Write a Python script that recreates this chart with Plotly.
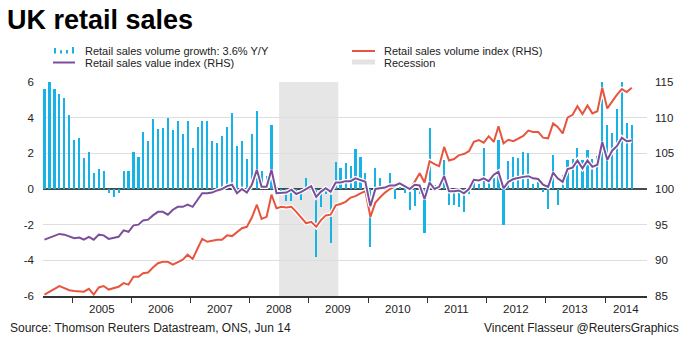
import pandas as pd
import plotly.graph_objects as go

# Monthly observations, Jul 2004 - Jun 2014
months = pd.date_range("2004-07-01", periods=120, freq="MS") + pd.Timedelta(days=14)

# Retail sales volume growth, % Y/Y (left axis)
volume_growth = [
    5.6, 6.0, 5.6, 5.3, 5.1, 4.15, 2.75, 2.85, 1.75, 2.05, 0.9, 1.1,
    1.0, -0.25, -0.45, -0.25, 1.0, 1.0, 2.1, 1.8, 3.2, 2.7, 3.9, 3.35,
    3.4, 4.0, 3.3, 3.8, 3.1, 3.8, 2.3, 3.5, 3.8, 3.8, 2.7, 2.6,
    3.0, 3.5, 4.25, 2.4, 2.7, 1.7, 3.1, 4.4, 1.0, 0.75, 3.6, 0.1,
    -0.1, -0.7, -0.7, -0.25, -0.6, 0.6, 0.1, -3.8, -1.0, -0.3, -3.05, 1.5,
    1.15, 1.45, 1.3, 2.25, 1.8, 0.9, -3.25, 1.2, 0.6, 0.05, 0.9, -0.55,
    0.1, -0.25, -1.2, -0.95, -0.3, -2.45, 3.4, 0.2, 0.3, 1.6, -0.9, -0.9,
    -1.0, -1.3, -0.3, 0.55, 0.3, 2.3, 0.4, 0.6, 2.75, -2.0, 1.55, 1.8,
    1.75, 2.1, 2.0, 0.3, 0.4, -0.15, -1.1, 1.9, -0.9, 0.8, 1.6, 1.7,
    2.3, 1.6, 2.2, 1.7, 1.85, 6.0, 3.6, 3.15, 4.5, 6.0, 3.7, 3.6,
]

# Retail sales volume index (right axis)
volume_index = [
    85.2, 85.6, 86.0, 86.4, 86.1, 85.8, 85.7, 85.7, 85.6, 86.0, 85.2, 86.2,
    86.4, 85.9, 86.1, 86.3, 86.8, 86.6, 87.7, 87.7, 88.2, 88.3, 89.0, 89.6,
    89.8, 89.8, 89.4, 89.7, 90.1, 90.8, 90.2, 91.7, 93.0, 92.6, 92.8, 92.9,
    92.9, 93.5, 93.4, 93.9, 94.5, 94.7, 96.0, 97.8, 95.8, 96.1, 99.2, 97.3,
    97.5, 97.4, 97.5, 96.8, 96.0, 95.2, 95.4, 94.7, 95.6, 96.3, 96.4, 97.7,
    97.9, 98.2, 98.8, 99.0, 99.4, 99.7, 96.1, 98.1, 98.8, 99.5, 100.0, 100.3,
    100.7, 100.5, 100.0, 101.0, 102.2, 100.9, 103.9, 103.5, 103.2, 105.9, 104.0, 104.2,
    104.75, 104.9, 105.3, 106.6, 106.85, 106.5, 107.4, 106.6, 108.8, 106.4, 106.9, 106.7,
    107.1, 107.45, 108.2, 108.0, 108.0, 107.2, 107.1, 109.2, 108.7, 107.8, 110.0, 110.4,
    111.6, 110.5, 111.7, 110.6, 110.9, 114.2, 111.3, 112.4, 113.2, 114.0, 113.6, 114.2,
]

# Retail sales value index (right axis)
value_index = [
    92.9, 93.2, 93.5, 93.7, 93.6, 93.3, 93.1, 93.2, 92.9, 93.3, 92.9, 93.6,
    93.5, 93.0, 93.2, 93.3, 94.2, 94.0, 94.9, 95.0, 95.6, 95.7, 96.3, 96.8,
    96.8, 96.4, 97.1, 97.5, 97.5, 97.8, 97.5, 98.6, 99.4, 99.4, 99.5, 99.8,
    100.0, 100.4, 100.6, 99.4, 100.0, 99.5, 100.6, 102.7, 100.3, 100.3, 102.7, 99.4,
    99.5, 99.5, 99.9, 99.3, 99.6, 100.0, 100.4, 98.9, 99.6, 100.1, 99.6, 100.9,
    100.9, 101.1, 101.1, 101.5, 101.2, 101.0, 97.6, 100.0, 100.1, 100.2, 100.5, 100.5,
    100.8, 100.4, 100.0, 100.6, 100.5, 98.6, 100.9, 100.0, 100.3, 101.8, 99.7, 99.7,
    99.8, 99.4, 100.0, 101.3, 101.2, 101.5, 101.1, 102.0, 102.4, 100.1, 101.0, 101.4,
    101.6, 101.7, 101.8, 101.5, 101.4, 100.6, 100.3, 102.3, 101.5, 101.0, 102.8, 103.0,
    104.0, 102.9, 104.0, 103.1, 103.4, 106.6, 104.1, 105.4, 106.0, 107.2, 106.7, 106.8,
]

recession = ("2008-07-01", "2009-07-01")
year_labels = ["2005", "2006", "2007", "2008", "2009", "2010", "2011", "2012", "2013", "2014"]
left_ticks = [-6, -4, -2, 0, 2, 4, 6]
right_ticks = [85, 90, 95, 100, 105, 110, 115]

BLUE = "#17b2e6"
RED = "#e8553f"
PURPLE = "#7b4e9c"
TEXT = "#222222"
FONT = "Liberation Sans, Arial, sans-serif"

W, H = 692, 338
ML, MR, MT, MB = 43, 45, 82, 42
PW, PH = W - ML - MR, H - MT - MB
X_RANGE = ["2004-07-06", "2014-09-17"]


def px(x):
    return (x - ML) / PW


def py(y):
    return (H - MB - y) / PH


fig = go.Figure()

fig.add_trace(go.Bar(
    x=months, y=volume_growth, marker=dict(color=BLUE, line=dict(width=0)),
    width=13 * 86400000, name="Retail sales volume growth", yaxis="y",
))

for series, color in ((volume_index, RED), (value_index, PURPLE)):
    fig.add_trace(go.Scatter(
        x=months, y=series, mode="lines", yaxis="y2",
        line=dict(color="white", width=4.5), hoverinfo="skip",
    ))
    fig.add_trace(go.Scatter(
        x=months, y=series, mode="lines", yaxis="y2",
        line=dict(color=color, width=2),
    ))

shapes = [
    dict(type="rect", xref="x", yref="paper", x0=recession[0], x1=recession[1],
         y0=0, y1=1, fillcolor="#e6e6e6", line=dict(width=0), layer="below"),
]

# legend keys
icon_bars = [(54, 5.5), (60, 3.3), (66, 3.5), (72, 6.5)]
for bx, bh in icon_bars:
    shapes.append(dict(type="rect", xref="paper", yref="paper",
                       x0=px(bx), x1=px(bx + 2), y0=py(53.5), y1=py(53.5 - bh),
                       fillcolor=BLUE, line=dict(width=0)))
shapes.append(dict(type="line", xref="paper", yref="paper", x0=px(53), x1=px(75),
                   y0=py(62.5), y1=py(62.5), line=dict(color=PURPLE, width=2)))
shapes.append(dict(type="line", xref="paper", yref="paper", x0=px(352), x1=px(375),
                   y0=py(51), y1=py(51), line=dict(color=RED, width=2)))
shapes.append(dict(type="rect", xref="paper", yref="paper", x0=px(352), x1=px(375),
                   y0=py(59.5), y1=py(64.5), fillcolor="#e3e3e3", line=dict(width=0)))

annotations = []
legend_texts = [
    (83, 51, "Retail sales volume growth: 3.6% Y/Y"),
    (83, 63, "Retail sales value index (RHS)"),
    (382, 51, "Retail sales volume index (RHS)"),
    (382, 63, "Recession"),
]
for lx, ly, t in legend_texts:
    annotations.append(dict(xref="paper", yref="paper", x=px(lx), y=py(ly), text=t,
                            showarrow=False, xanchor="left", yanchor="middle",
                            font=dict(size=11, color=TEXT, family=FONT)))

# year labels centred on each year (last one on its visible part)
for lab in year_labels:
    if lab == year_labels[-1]:
        xd = pd.Timestamp(lab + "-01-01") + (pd.Timestamp(X_RANGE[1]) - pd.Timestamp(lab + "-01-01")) / 2
    else:
        xd = pd.Timestamp(lab + "-07-02")
    annotations.append(dict(xref="x", yref="paper", x=xd, y=py(309), text=lab,
                            showarrow=False, xanchor="center", yanchor="middle",
                            font=dict(size=11.5, color=TEXT, family=FONT)))

annotations.append(dict(xref="paper", yref="paper", x=px(8), y=py(337),
                        text="Source: Thomson Reuters Datastream, ONS, Jun 14",
                        showarrow=False, xanchor="left", yanchor="bottom",
                        font=dict(size=12, color=TEXT, family=FONT)))
annotations.append(dict(xref="paper", yref="paper", x=px(681), y=py(337),
                        text="Vincent Flasseur @ReutersGraphics",
                        showarrow=False, xanchor="right", yanchor="bottom",
                        font=dict(size=12, color=TEXT, family=FONT)))

fig.update_layout(
    width=W, height=H,
    margin=dict(l=ML, r=MR, t=MT, b=MB, pad=0),
    paper_bgcolor="white", plot_bgcolor="white",
    showlegend=False, bargap=0,
    font=dict(family=FONT, color=TEXT),
    title=dict(text="<b>UK retail sales</b>", x=7 / W, xanchor="left",
               y=1 - 20 / H, yanchor="middle",
               font=dict(size=27, color="#000000", family=FONT)),
    xaxis=dict(
        type="date", range=X_RANGE, showgrid=False, zeroline=False,
        showline=True, linecolor="#333333", linewidth=1.5,
        tickmode="array", tickvals=[f"{y}-01-01" for y in year_labels],
        ticks="outside", ticklen=5, tickwidth=1, tickcolor="#333333",
        showticklabels=False,
    ),
    yaxis=dict(
        range=[-6, 6], tickmode="array", tickvals=left_ticks,
        ticktext=[str(v) for v in left_ticks],
        showgrid=True, gridcolor="#dedede", gridwidth=1,
        zeroline=True, zerolinecolor="#4a4a4a", zerolinewidth=2,
        showline=False, ticks="", ticklabelstandoff=8,
        tickfont=dict(size=11.5, color=TEXT, family=FONT),
    ),
    yaxis2=dict(
        range=[85, 115], overlaying="y", side="right",
        tickmode="array", tickvals=right_ticks,
        showgrid=False, zeroline=False, showline=False, ticks="",
        ticklabelstandoff=7,
        tickfont=dict(size=11.5, color=TEXT, family=FONT),
    ),
    shapes=shapes,
    annotations=annotations,
)

fig.write_html("out.html")
